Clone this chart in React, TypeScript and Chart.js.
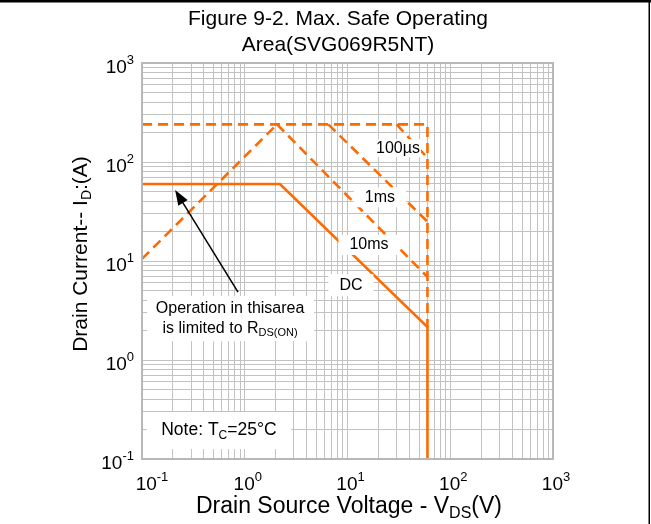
import React, { useEffect, useRef } from "react";
import { Chart, registerables } from "chart.js";

Chart.register(...registerables);

const ORANGE = "#ff6a00";
const FONT = '"Liberation Sans", Arial, Helvetica, sans-serif';

// Drain-source voltage (V) / drain current (A)
const dcVoltage = [0.1, 2.2, 60, 60];
const dcCurrent = [60, 60, 2.15, 0.1];
const limitVoltage = [0.1, 60, 60];
const limitCurrent = [240, 240, 2.15];
const rdsVoltage = [0.1, 2.06];
const rdsCurrent = [10.5, 240];
const ms10Voltage = [2.06, 60];
const ms10Current = [240, 6.9];
const ms1Voltage = [6.5, 60];
const ms1Current = [240, 25];
const us100Voltage = [30, 60];
const us100Current = [240, 110];

// Axis decades (tick labels are 10^n)
const xDecades = [-1, 0, 1, 2, 3];
const yDecades = [-1, 0, 1, 2, 3];

const toPoints = (xs: number[], ys: number[]) => xs.map((x, i) => ({ x, y: ys[i] }));

function logTicks(minExp: number, maxExp: number) {
  const out: { value: number }[] = [];
  for (let e = minExp; e < maxExp; e++) {
    for (let m = 1; m <= 9; m++) out.push({ value: parseFloat((m * Math.pow(10, e)).toPrecision(6)) });
  }
  out.push({ value: Math.pow(10, maxExp) });
  return out;
}

type Part = { t: string; s?: "sub" | "sup" };

function drawRich(
  ctx: CanvasRenderingContext2D,
  parts: Part[],
  x: number,
  y: number,
  size: number,
  align: "left" | "center" | "right",
  measureOnly = false
) {
  const main = `${size}px ${FONT}`;
  const small = `${Math.round(size * 0.68)}px ${FONT}`;
  let w = 0;
  for (const p of parts) {
    ctx.font = p.s ? small : main;
    w += ctx.measureText(p.t).width;
  }
  if (measureOnly) return w;
  let cx = align === "center" ? x - w / 2 : align === "right" ? x - w : x;
  ctx.textBaseline = "middle";
  ctx.textAlign = "left";
  ctx.fillStyle = "#000";
  for (const p of parts) {
    ctx.font = p.s ? small : main;
    const dy = p.s === "sub" ? size * 0.3 : p.s === "sup" ? -size * 0.42 : 0;
    ctx.fillText(p.t, cx, y + dy);
    cx += ctx.measureText(p.t).width;
  }
  return w;
}

function labelWithBox(
  ctx: CanvasRenderingContext2D,
  parts: Part[],
  x: number,
  y: number,
  size: number,
  padX: number,
  padY: number
) {
  const w = drawRich(ctx, parts, x, y, size, "center", true);
  ctx.fillStyle = "#fff";
  ctx.fillRect(x - w / 2 - padX, y - size / 2 - padY, w + padX * 2, size + padY * 2);
  drawRich(ctx, parts, x, y, size, "center");
}

const decorations = {
  id: "decorations",
  afterDraw(chart: any) {
    const ctx: CanvasRenderingContext2D = chart.ctx;
    const xs = chart.scales.x;
    const ys = chart.scales.y;
    const area = chart.chartArea;
    ctx.save();

    // plot frame
    ctx.strokeStyle = "#b8b8b8";
    ctx.lineWidth = 2;
    ctx.strokeRect(area.left, area.top, area.right - area.left, area.bottom - area.top);

    // curve labels
    const px = (v: number) => xs.getPixelForValue(v);
    const py = (v: number) => ys.getPixelForValue(v);
    labelWithBox(ctx, [{ t: "100µs" }], px(31), py(138), 16, 1, 1);
    labelWithBox(ctx, [{ t: "1ms" }], px(20.7), py(44), 16, 11, 2);
    labelWithBox(ctx, [{ t: "10ms" }], px(16.2), py(14.5), 16, 11, 2);
    labelWithBox(ctx, [{ t: "DC" }], px(10.8), py(5.7), 16, 11, 3);

    // R_DS(on) note box
    const bx = px(0.72);
    const by = py(2.65);
    ctx.fillStyle = "#fff";
    ctx.fillRect(bx - 83, by - 22, 167, 45);
    drawRich(ctx, [{ t: "Operation in thisarea" }], bx, by - 10, 16, "center");
    drawRich(ctx, [{ t: "is limited to R" }, { t: "DS(ON)", s: "sub" }], bx, by + 10, 16, "center");

    // arrow
    const tx = px(0.86), tyy = py(4.86);
    const hx = px(0.21), hy = py(52);
    const ang = Math.atan2(hy - tyy, hx - tx);
    const headLen = 15;
    ctx.strokeStyle = "#000";
    ctx.lineWidth = 1.5;
    ctx.beginPath();
    ctx.moveTo(tx, tyy);
    ctx.lineTo(hx - Math.cos(ang) * headLen * 0.8, hy - Math.sin(ang) * headLen * 0.8);
    ctx.stroke();
    ctx.fillStyle = "#000";
    ctx.beginPath();
    ctx.moveTo(hx, hy);
    ctx.lineTo(hx - headLen * Math.cos(ang) + 5.5 * Math.sin(ang), hy - headLen * Math.sin(ang) - 5.5 * Math.cos(ang));
    ctx.lineTo(hx - headLen * Math.cos(ang) - 5.5 * Math.sin(ang), hy - headLen * Math.sin(ang) + 5.5 * Math.cos(ang));
    ctx.closePath();
    ctx.fill();

    // temperature note
    const nx = px(0.56);
    const ny = py(0.196);
    ctx.fillStyle = "#fff";
    ctx.fillRect(nx - 72, ny - 18, 144, 37);
    drawRich(ctx, [{ t: "Note: T" }, { t: "C", s: "sub" }, { t: "=25°C" }], nx, ny, 17.5, "center");

    // tick labels
    for (const e of xDecades) {
      const x = xs.getPixelForValue(Math.pow(10, e));
      drawRich(ctx, [{ t: "10" }, { t: String(e), s: "sup" }], x + (e === -1 ? 10 : 3), area.bottom + 26, 19, "center");
    }
    for (const e of yDecades) {
      const y = ys.getPixelForValue(Math.pow(10, e));
      drawRich(ctx, [{ t: "10" }, { t: String(e), s: "sup" }], 134, y + 5, 19, "right");
    }

    // titles
    drawRich(ctx, [{ t: "Figure 9-2. Max. Safe Operating" }], 338, 19, 21, "center");
    drawRich(ctx, [{ t: "Area(SVG069R5NT)" }], 338, 45, 21, "center");
    drawRich(ctx, [{ t: "Drain Source Voltage - V" }, { t: "DS", s: "sub" }, { t: "(V)" }], 349, 507, 23, "center");
    ctx.save();
    ctx.translate(81, 254);
    ctx.rotate(-Math.PI / 2);
    drawRich(ctx, [{ t: "Drain Current-- I" }, { t: "D", s: "sub" }, { t: ":(A)" }], 0, 0, 21, "center");
    ctx.restore();

    // outer frame
    ctx.fillStyle = "#000";
    ctx.fillRect(0, 0, chart.width, 2.5);
    ctx.fillRect(648.5, 0, 1.5, chart.height);

    ctx.restore();
  },
};

export default function App() {
  const ref = useRef<HTMLCanvasElement | null>(null);

  useEffect(() => {
    document.body.style.margin = "0";
    if (!ref.current) return;
    const dashed = (data: { x: number; y: number }[]) => ({
      data,
      showLine: true,
      borderColor: ORANGE,
      borderWidth: 2.6,
      borderDash: [10, 6],
      pointRadius: 0,
      fill: false,
    });
    const gridOpts = {
      color: "#c2c2c2",
      lineWidth: 1,
      drawTicks: false,
    };
    const chart = new Chart(ref.current, {
      type: "scatter",
      data: {
        datasets: [
          dashed(toPoints(limitVoltage, limitCurrent)),
          dashed(toPoints(rdsVoltage, rdsCurrent)),
          dashed(toPoints(ms10Voltage, ms10Current)),
          dashed(toPoints(ms1Voltage, ms1Current)),
          dashed(toPoints(us100Voltage, us100Current)),
          {
            data: toPoints(dcVoltage, dcCurrent),
            showLine: true,
            borderColor: ORANGE,
            borderWidth: 2.6,
            pointRadius: 0,
            fill: false,
          },
        ] as any,
      },
      options: {
        animation: false,
        responsive: false,
        devicePixelRatio: 1,
        layout: { padding: { left: 142, right: 98, top: 63, bottom: 65 } },
        plugins: {
          legend: { display: false },
          tooltip: { enabled: false },
          title: { display: false },
        },
        scales: {
          x: {
            type: "logarithmic",
            min: 0.1,
            max: 1000,
            afterBuildTicks: (s: any) => {
              s.ticks = logTicks(-1, 3);
            },
            ticks: { display: false },
            grid: gridOpts,
            border: { color: "#b8b8b8", width: 2 },
          },
          y: {
            type: "logarithmic",
            min: 0.1,
            max: 1000,
            afterBuildTicks: (s: any) => {
              s.ticks = logTicks(-1, 3);
            },
            ticks: { display: false },
            grid: gridOpts,
            border: { color: "#b8b8b8", width: 2 },
          },
        },
      } as any,
      plugins: [decorations],
    });
    return () => chart.destroy();
  }, []);

  return (
    <div style={{ width: 651, height: 524, background: "#fff" }}>
      <canvas ref={ref} width={651} height={524} style={{ display: "block", width: 651, height: 524 }} />
    </div>
  );
}
